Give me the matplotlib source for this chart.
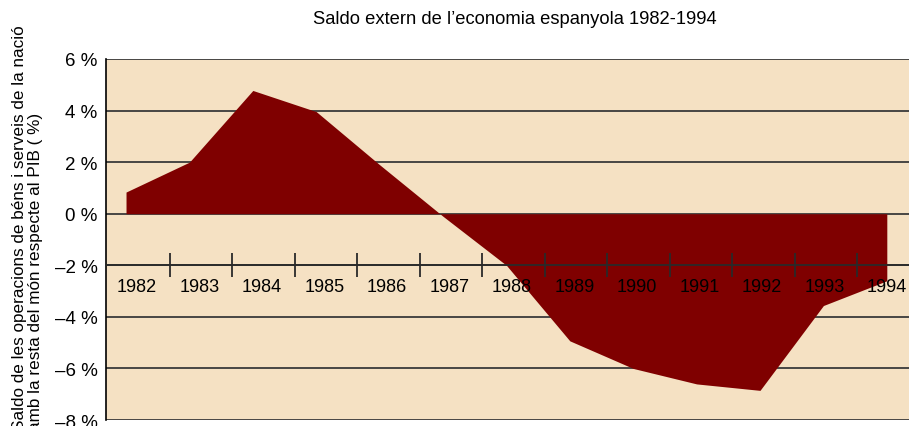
import matplotlib.pyplot as plt
import numpy as np

plt.rcParams['font.family'] = ['Liberation Sans', 'DejaVu Sans']

years = ['1982', '1983', '1984', '1985', '1986', '1987', '1988',
         '1989', '1990', '1991', '1992', '1993', '1994']
saldo = [0.84, 2.0, 4.78, 3.96, 1.9, -0.1, -2.0,
         -4.93, -6.0, -6.6, -6.85, -3.56, -2.6]
yticks = [6, 4, 2, 0, -2, -4, -6, -8]

fig = plt.figure(figsize=(9.09, 4.27), dpi=100)
ax = fig.add_axes([0.1166, 0.014, 0.8834, 0.8455])
ax.set_facecolor('#f5e1c3')
ax.set_axisbelow(False)

x = np.arange(len(years))
ax.fill_between(x, saldo, 0, color='#7f0000', lw=0, zorder=2)

for v in yticks:
    ax.axhline(v, color='#3a3a3a', lw=1.3, zorder=1)

ax.set_xlim(-0.316, 12.35)
ax.set_ylim(-8, 6)
ax.set_yticks(yticks)
ax.set_yticklabels([('\u2013%d %%' % -v) if v < 0 else '%d %%' % v for v in yticks])
ax.tick_params(axis='y', length=0, pad=6, labelsize=13.5)

# category axis drawn along the -2 % line
step = 0.986
ax.set_xticks([0.69 + step * i for i in range(len(years) - 1)])
ax.set_xticklabels([])
ax.set_xticks([0.17 + step * i for i in range(len(years))], minor=True)
ax.set_xticklabels(years, minor=True)
ax.tick_params(axis='x', which='major', direction='inout', length=17,
               width=1.3, color='#2a2a2a')
ax.tick_params(axis='x', which='minor', length=0, pad=9, labelsize=13)

ax.spines['bottom'].set_position(('data', -2))
ax.spines['bottom'].set_color('#2a2a2a')
ax.spines['bottom'].set_linewidth(1.3)
ax.spines['bottom'].set_zorder(3)
ax.spines['top'].set_visible(False)
ax.spines['right'].set_visible(False)
ax.spines['left'].set_linewidth(1.2)

fig.text(0.566, 0.955, 'Saldo extern de l\u2019economia espanyola 1982-1994',
         ha='center', va='center', fontsize=13.2)
fig.text(0.03, -0.01,
         'Saldo de les operacions de b\u00e9ns i serveis de la naci\u00f3\n'
         'amb la resta del m\u00f3n respecte al PIB ( %)',
         rotation=90, ha='center', va='bottom', multialignment='left',
         fontsize=12.3, linespacing=1.05)

fig.savefig('out.png', dpi=100)
